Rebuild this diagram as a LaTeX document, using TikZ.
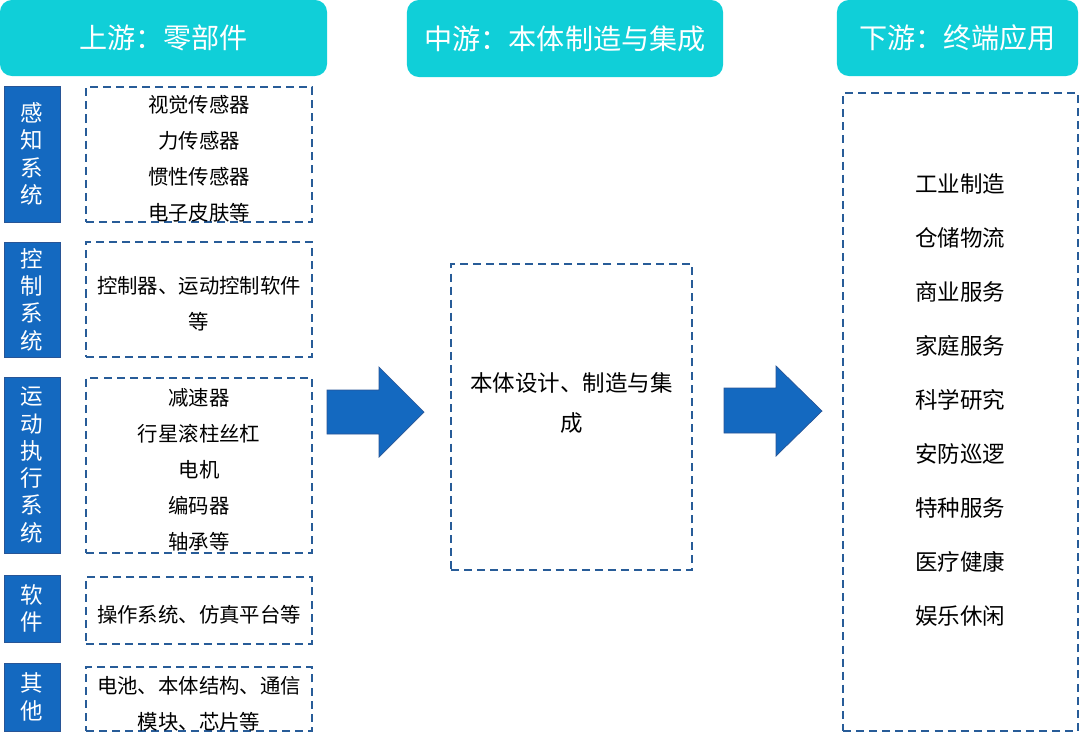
\documentclass[tikz,border=0pt]{standalone}
\usepackage{fontspec}
\setmainfont{Noto Sans CJK SC}
\definecolor{headcyan}{RGB}{16,207,216}
\definecolor{catblue}{RGB}{20,105,192}
\definecolor{catedge}{RGB}{40,85,150}
\definecolor{dashblue}{RGB}{40,92,152}
\begin{document}
\begin{tikzpicture}[x=0.025cm, y=-0.025cm,
	head/.style={rectangle, rounded corners=0.3cm, fill=headcyan, text=white, font=\fontsize{20}{24}\selectfont},
	cat/.style={rectangle, fill=catblue, draw=catedge, line width=0.6pt, text=white, minimum width=1.4cm, align=center, font=\fontsize{16}{19.4}\selectfont},
	dbox/.style={rectangle, draw=dashblue, line width=1.4pt, dash pattern=on 5.7pt off 3.6pt},
	part/.style={dbox, minimum width=5.65cm},
	parttext/.style={align=center, yshift=-3.3pt, font=\fontsize{14.5}{25.6}\selectfont},
	blockarrow/.style={fill=catblue, draw=catedge, line width=0.5pt}]
	\useasboundingbox (0, 0) rectangle (1080, 744);
	\node[head, minimum width=8.175cm, minimum height=1.9cm] (up) at (163.5, 38) {上游：零部件};
	\node[head, minimum width=7.9cm, minimum height=1.925cm] (mid) at (565, 38.5) {中游：本体制造与集成};
	\node[head, minimum width=6.025cm, minimum height=1.9cm] (down) at (957.5, 38) {下游：终端应用};
	\node[cat, minimum height=3.4cm] (sense) at (32, 154) {感\\知\\系\\统};
	\node[cat, minimum height=2.875cm] (ctrl) at (32, 299.5) {控\\制\\系\\统};
	\node[cat, minimum height=4.4cm] (move) at (32, 465) {运\\动\\执\\行\\系\\统};
	\node[cat, minimum height=1.675cm] (soft) at (32, 608.5) {软\\件};
	\node[cat, minimum height=1.7cm] (other) at (32, 697) {其\\他};
	\node[part, minimum height=3.375cm] (sensebox) at (199, 154.5) {};
	\node[part, minimum height=2.875cm] (ctrlbox) at (199, 299.5) {};
	\node[part, minimum height=4.375cm] (movebox) at (199, 465.5) {};
	\node[part, minimum height=1.675cm] (softbox) at (199, 610.5) {};
	\node[part, minimum height=1.6cm] (otherbox) at (199, 699) {};
	\node[parttext] (sensetext) at (sensebox) {视觉传感器\\力传感器\\惯性传感器\\电子皮肤等};
	\node[parttext] (ctrltext) at (ctrlbox) {控制器、运动控制软件\\等};
	\node[parttext] (movetext) at (movebox) {减速器\\行星滚柱丝杠\\电机\\编码器\\轴承等};
	\node[parttext] (softtext) at (softbox) {操作系统、仿真平台等};
	\node[parttext] (othertext) at (otherbox) {电池、本体结构、通信\\模块、芯片等};
	\node[dbox, minimum width=6.025cm, minimum height=7.65cm] (midbox) at (571.5, 417) {};
	\node[align=center, font=\fontsize{16}{28.4}\selectfont] (midtext) at (571.5, 403) {本体设计、制造与集\\成};
	\node[dbox, minimum width=5.875cm, minimum height=15.95cm] (appbox) at (960.5, 412) {};
	\node[align=center, font=\fontsize{16}{38.4}\selectfont] (apptext) at (960, 400) {工业制造\\仓储物流\\商业服务\\家庭服务\\科学研究\\安防巡逻\\特种服务\\医疗健康\\娱乐休闲};
	\draw[blockarrow] (327, 390)--(379, 390)--(379, 367)--(424, 412)--(379, 457)--(379, 434)--(327, 434)--cycle;
	\draw[blockarrow] (724, 388)--(776, 388)--(776, 366)--(822, 411)--(776, 456)--(776, 433)--(724, 433)--cycle;
\end{tikzpicture}
\end{document}
